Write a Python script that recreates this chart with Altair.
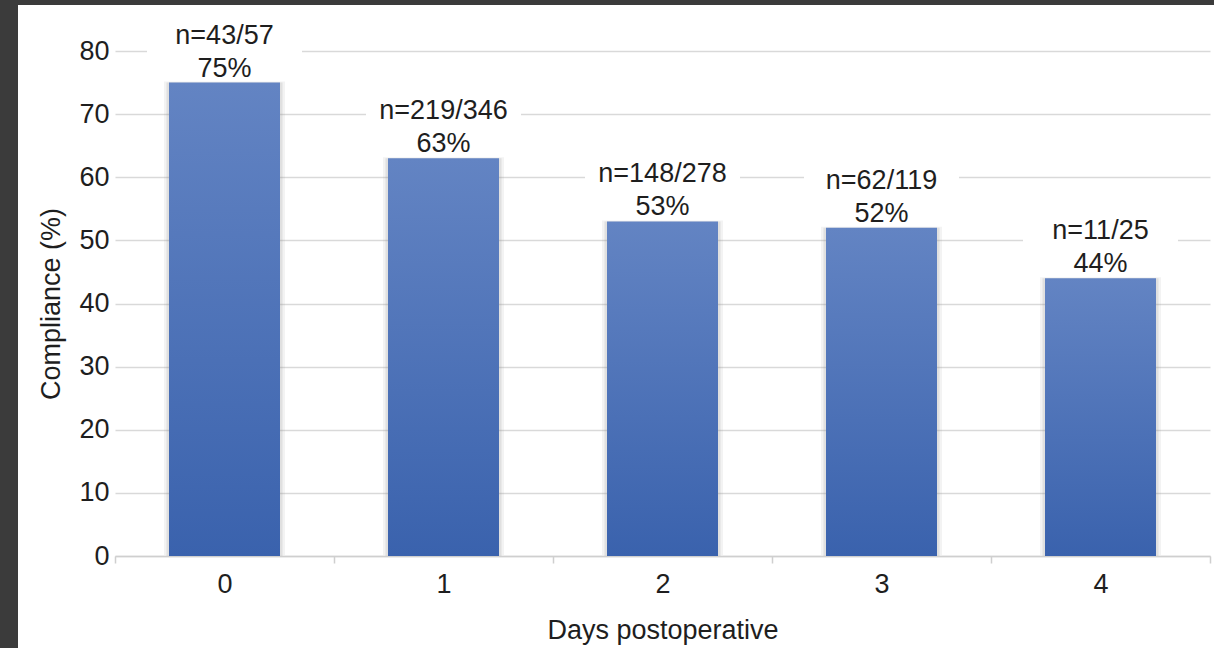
import altair as alt
import pandas as pd

# Compliance by day after surgery
days = ["0", "1", "2", "3", "4"]
compliant = [43, 219, 148, 62, 11]
patients = [57, 346, 278, 119, 25]
pct = [75, 63, 53, 52, 44]

df = pd.DataFrame({
    "day": days,
    "pct": pct,
    "n_label": [f"n={c}/{p}" for c, p in zip(compliant, patients)],
    "pct_label": [f"{v}%" for v in pct],
})

W, H = 1095, 505
FONT = "Liberation Sans"
INK = "#1e1e1e"
FS = 27

x = alt.X("day:N", sort=days, title="Days postoperative",
          scale=alt.Scale(paddingInner=0, paddingOuter=0),
          axis=alt.Axis(labelAngle=0, tickBand="extent", tickSize=7,
                        tickColor="#cfcfcf", tickWidth=1.5,
                        domainColor="#cfcfcf", domainWidth=1.5,
                        labelPadding=8, titlePadding=20, grid=False))
y = alt.Y("pct:Q", title="Compliance (%)",
          scale=alt.Scale(domain=[0, 80], nice=False),
          axis=alt.Axis(values=list(range(0, 81, 10)), domain=False, ticks=False,
                        labelPadding=6, titlePadding=13,
                        gridColor="#d9d9d9", gridWidth=1.5))

base = alt.Chart(df)

# white boxes behind the two-line labels
boxes = base.mark_bar(color="white", size=155, yOffset=-2, y2Offset=-70).encode(
    x=x, y=y, y2=alt.Y2("pct:Q"))

# soft shadow around each bar
shadow_outer = base.mark_bar(color="#9a9a9a", opacity=0.12, size=121, yOffset=-1).encode(
    x=x, y=y)
shadow_inner = base.mark_bar(color="#8a8a8a", opacity=0.18, size=116).encode(
    x=x, y=y)

grad = alt.Gradient(
    gradient="linear",
    stops=[alt.GradientStop(color="#3a62ad", offset=0),
           alt.GradientStop(color="#6384c3", offset=1)],
    x1=1, x2=1, y1=1, y2=0)

bars = base.mark_bar(color=grad, size=111).encode(x=x, y=y)

pct_text = base.mark_text(font=FONT, fontSize=FS, color=INK,
                          baseline="alphabetic", dy=-6).encode(
    x=x, y=y, text="pct_label:N")
n_text = base.mark_text(font=FONT, fontSize=FS, color=INK,
                        baseline="alphabetic", dy=-39).encode(
    x=x, y=y, text="n_label:N")

# dark frame strips along the left and top edges
frame = pd.DataFrame({"k": [0]})
left_strip = alt.Chart(frame).mark_rect(color="#3b3b3b").encode(
    x=alt.value(-115), x2=alt.value(-97), y=alt.value(-51), y2=alt.value(H + 92))
top_strip = alt.Chart(frame).mark_rect(color="#3b3b3b").encode(
    x=alt.value(-115), x2=alt.value(W + 4), y=alt.value(-51), y2=alt.value(-46))

chart = alt.layer(
    boxes, shadow_outer, shadow_inner, bars, pct_text, n_text, left_strip, top_strip
).properties(
    width=W, height=H,
    autosize=alt.AutoSizeParams(type="none"),
    padding={"left": 115, "top": 51, "right": 4, "bottom": 92},
    background="white",
).configure_view(stroke=None).configure_axis(
    labelFont=FONT, titleFont=FONT, labelFontSize=FS, titleFontSize=FS,
    labelColor=INK, titleColor=INK, titleFontWeight="normal",
)

chart.save("out.html", embed_options={"renderer": "svg", "actions": False})
